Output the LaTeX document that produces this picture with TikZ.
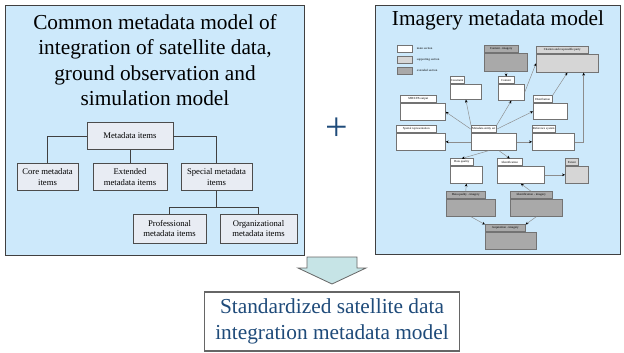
\documentclass[tikz,border=0pt]{standalone}
\usepackage{fontspec}
\setmainfont{Liberation Serif}
\usetikzlibrary{arrows.meta,calc,positioning}

\definecolor{panelblue}{HTML}{CDE9FB}
\definecolor{itemfill}{HTML}{E8ECF3}
\definecolor{lightsec}{HTML}{D6D6D6}
\definecolor{darksec}{HTML}{A9A9A9}
\definecolor{titleblue}{HTML}{1F4B7A}
\definecolor{arrowfill}{HTML}{C6E4E6}

% one unit of the picture
\newcommand{\px}{0.75pt}

\tikzset{
  panel/.style={draw=black!75, line width=0.8pt, fill=panelblue, anchor=north west},
  item/.style={draw=black!70, line width=0.7pt, fill=itemfill, align=center, inner sep=1pt,
    minimum height=27*\px, font=\fontsize{6.5}{7.6}\selectfont},
  link/.style={draw=black!75, line width=0.7pt},
  pkgbody/.style={draw=black!55, line width=0.5pt, inner sep=0pt, anchor=north west},
  pkgtab/.style={draw=black!55, line width=0.4pt, inner xsep=0.4pt, inner ysep=0pt, anchor=south west,
    minimum height=7*\px, font=\fontsize{2.3}{2.5}\selectfont},
  keytext/.style={font=\fontsize{2.3}{2.5}\selectfont, inner sep=0pt},
  dep/.style={draw=black!45, line width=0.35pt, -{Stealth[length=2.2pt,width=2pt,color=black]}},
}

% package box: name, x, y, width, height, tab width, fill, label
\newcommand{\pkg}[8]{%
  \node[pkgbody, fill=#7, minimum width=#4*\px, minimum height=#5*\px] (#1) at (#2,#3) {};
  \node[pkgtab, fill=#7, minimum width=#6*\px] (#1-tab) at (#1.north west) {#8};
}

\begin{document}
\begin{tikzpicture}[x=0.75pt, y=-0.75pt]
  \fill[white] (0,0) rectangle (624,353);
  \useasboundingbox (0,0) rectangle (624,353);

  % Left panel: the common model and its item tree.
  \node[panel, minimum width=299*\px, minimum height=250*\px] (common) at (5,5) {};
  \node[align=center, font=\fontsize{16}{19.1}\selectfont] (commontitle) at (155,60)
    {Common metadata model of\\integration of satellite data,\\ground observation and\\simulation model};
  \node[item, minimum width=86*\px] (items) at (130,136) {Metadata items};
  \node[item, minimum width=61*\px] (core) at (47.5,177) {Core metadata\\items};
  \node[item, minimum width=74*\px] (extended) at (130,177) {Extended\\metadata items};
  \node[item, minimum width=71*\px] (special) at (216.5,177) {Special metadata\\items};
  \node[item, minimum width=73*\px, minimum height=29*\px] (professional) at (169.5,228.5) {Professional\\metadata items};
  \node[item, minimum width=77*\px, minimum height=29*\px] (organizational) at (258.5,228.5) {Organizational\\metadata items};
  \coordinate (split) at ($(special.south)+(0,16)$);
  \draw[link] (items.west) -| (core.north);
  \draw[link] (items.south) -- (extended.north);
  \draw[link] (items.east) -| (special.north);
  \draw[link] (special.south) -- (split);
  \draw[link] (professional.north) |- (split) -| (organizational.north);

  % The plus sign between the panels.
  \node[text=titleblue, font=\fontsize{30}{30}\selectfont] (plus) at (337,129) {+};

  % Right panel: the imagery package diagram.
  \node[panel, minimum width=245*\px, minimum height=249*\px] (imagery) at (375,5) {};
  \node[font=\fontsize{16}{19.1}\selectfont] (imagerytitle) at (498,20) {Imagery metadata model};

  % Legend.
  \node[pkgbody, fill=white, minimum width=15*\px, minimum height=7*\px] (keymain) at (397,45) {};
  \node[pkgbody, fill=lightsec, minimum width=15*\px, minimum height=7*\px] (keysupport) at (397,56) {};
  \node[pkgbody, fill=darksec, minimum width=15*\px, minimum height=7*\px] (keyextend) at (397,67) {};
  \node[keytext, right=3pt of keymain] (keymain-lbl) {main section};
  \node[keytext, right=3pt of keysupport] (keysupport-lbl) {supporting section};
  \node[keytext, right=3pt of keyextend] (keyextend-lbl) {extended section};

  % Packages.
  \pkg{contimg}{484}{53}{43}{18}{34}{darksec}{Content - imagery}
  \pkg{citation}{536}{54}{62}{18}{52}{lightsec}{Citation and responsible party}
  \pkg{constraint}{450}{84}{31}{15}{12}{white}{Constraint}
  \pkg{content}{498}{84}{26}{16}{16}{white}{Content}
  \pkg{mdltb}{400}{103}{45}{17}{36}{white}{MD/LTB output}
  \pkg{distribution}{533}{103}{34}{16}{19}{white}{Distribution}
  \pkg{spatial}{396}{133}{49}{17}{40}{white}{Spatial representation}
  \pkg{mes}{471}{133}{45}{17}{25}{white}{Metadata entity set}
  \pkg{refsys}{532}{133}{42}{17}{23}{white}{Reference system}
  \pkg{dq}{450}{166}{32}{17}{23}{white}{Data quality}
  \pkg{ident}{497}{166}{47}{17}{25}{white}{Identification}
  \pkg{extent}{565}{166}{23}{17}{13}{lightsec}{Extent}
  \pkg{dqimg}{446}{199}{49}{17}{39}{darksec}{Data quality - imagery}
  \pkg{idimg}{510}{199}{52}{17}{42}{darksec}{Identification - imagery}
  \pkg{acq}{485}{232}{51}{17}{40}{darksec}{Acquisition - imagery}

  % Dependencies between packages.
  \coordinate (citein) at ($(citation.south east)+(-15,0)$);
  \draw[dep] (contimg.south) -- (content-tab.north);
  \draw[dep] (content.east) -- (citation.west);
  \draw[dep] (distribution-tab.north east) -- (citation.south);
  \draw[dep] (refsys.east) -| (citein);
  \draw[dep] (mes-tab.north west) -- (constraint.south);
  \draw[dep] (mes-tab.north east) -- (content.south);
  \draw[dep] (mes-tab.west) -- (mdltb.east);
  \draw[dep] (mes-tab.east) -- (distribution.west);
  \draw[dep] (mes.west) -- (spatial.east);
  \draw[dep] (mes.east) -- (refsys.west);
  \draw[dep] (mes.240) -- (dq-tab.north);
  \draw[dep] (mes.300) -- (ident-tab.north);
  \draw[dep] (ident.east) -- (extent.west);
  \draw[dep] (dqimg-tab.north) -- (dq.south);
  \draw[dep] (idimg-tab.north) -- (ident.south);
  \draw[dep] (dqimg.south) -- (acq-tab.north west);
  \draw[dep] (idimg.south) -- (acq-tab.north east);

  % Block arrow down to the merged model.
  \draw[draw=black!60, fill=arrowfill, line width=0.6pt]
    (307,257) -- (357,257) -- (357,268) -- (366,268) -- (332,284) -- (298,268) -- (307,268) -- cycle;
  \node[draw=black!60, line width=0.8pt, fill=white, minimum width=255*\px, minimum height=59*\px,
    align=center, text=titleblue, font=\fontsize{16}{19.5}\selectfont] (result) at (332,321.5)
    {Standardized satellite data\\integration metadata model};
\end{tikzpicture}
\end{document}
